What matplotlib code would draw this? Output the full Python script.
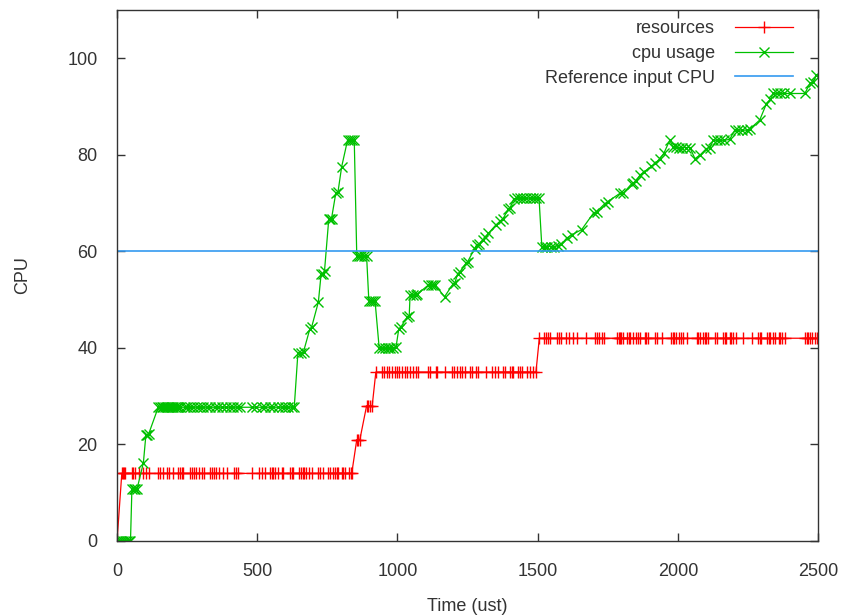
import matplotlib
matplotlib.use("Agg")
import matplotlib.pyplot as plt

plt.rcParams['font.family'] = ['Liberation Sans', 'DejaVu Sans']

# resources (red, "+")
res_t = [0, 17, 20, 25, 30, 52, 58, 64, 80, 94, 103, 115, 147, 153, 163, 177, 187, 198,
         219, 225, 231, 236, 260, 266, 274, 282, 294, 302, 310, 332, 339, 346, 353,
         365, 379, 391, 417, 424, 430, 480, 507, 516, 528, 545, 551, 557, 563, 575,
         587, 593, 617, 623, 629, 650, 656, 662, 668, 674, 686, 694, 718, 724, 736,
         753, 759, 771, 777, 783, 789, 801, 807, 813, 828, 833, 837,
         855, 860, 866, 890, 896, 903, 910,
         923, 944, 952, 961, 971, 979, 991, 997, 1006, 1015, 1027, 1035, 1045, 1054,
         1066, 1074, 1110, 1116, 1137, 1142, 1169, 1193, 1201, 1211, 1223, 1232, 1241,
         1258, 1265, 1280, 1288, 1316, 1339, 1348, 1359, 1377, 1383, 1401, 1407, 1413,
         1431, 1437, 1443, 1461, 1472, 1482, 1494,
         1506, 1522, 1529, 1538, 1544, 1570, 1577, 1585, 1601, 1613, 1627, 1639, 1672,
         1704, 1710, 1720, 1728, 1736, 1784, 1789, 1793, 1799, 1805, 1819, 1826, 1831,
         1841, 1850, 1859, 1865, 1882, 1888, 1894, 1918, 1924, 1945, 1974, 1981, 1986,
         1993, 2005, 2013, 2019, 2031, 2067, 2072, 2078, 2090, 2096, 2102, 2108, 2132,
         2138, 2161, 2167, 2173, 2185, 2191, 2197, 2209, 2233, 2263, 2286, 2292, 2298,
         2318, 2326, 2330, 2338, 2346, 2361, 2366, 2373, 2381, 2453, 2459, 2465, 2471,
         2480, 2488, 2496]
res_v = ([0] + [14] * 74 + [21] * 3 + [28] * 4 + [35] * 47 + [42] * 81)

# cpu usage (green, "x")
cpu_t = [0, 7, 14, 20, 27, 34, 41, 48, 53, 59, 65, 71, 94, 103, 108, 113,
         147, 153, 159, 165, 171, 177, 183, 189, 195, 201, 207, 213, 219, 225, 242,
         251, 260, 272, 284, 296, 308, 320, 332, 349, 361, 373, 389, 403, 415, 429,
         439, 480, 496, 516, 528, 545, 557, 575, 587, 599, 611, 623, 632,
         645, 655, 665, 688, 694, 718, 728, 735, 740, 755, 760, 765, 780, 788, 801,
         822, 830, 838, 846, 855, 862, 870, 880, 890, 898, 905, 912, 920,
         935, 945, 955, 965, 975, 985, 995, 1005, 1012, 1035, 1042, 1045, 1055, 1065,
         1070, 1110, 1120, 1128, 1135, 1168, 1199, 1205, 1215, 1222, 1244, 1250,
         1275, 1282, 1290, 1306, 1314, 1324, 1350, 1365, 1377, 1395, 1401,
         1415, 1425, 1437, 1448, 1460, 1472, 1485, 1495, 1505,
         1515, 1525, 1535, 1548, 1560, 1572, 1585, 1603, 1621, 1657, 1700, 1710,
         1740, 1750, 1793, 1805, 1835, 1841, 1850, 1865, 1880, 1906, 1920, 1936,
         1950, 1971, 1983, 1995, 2005, 2015, 2030, 2043, 2061, 2080, 2102, 2115,
         2126, 2140, 2150, 2165, 2185, 2203, 2215, 2230, 2245, 2256, 2292, 2316,
         2330, 2340, 2352, 2365, 2380, 2399, 2453, 2471, 2482, 2494]
cpu_v = [0, 0, 0, 0, 0, 0, 0, 0, 10.7, 10.7, 10.7, 10.7, 16.2, 22, 22, 22.2,
         27.7, 27.7, 27.7, 27.7, 27.7, 27.7, 27.7, 27.7, 27.7, 27.7, 27.7, 27.7,
         27.7, 27.7, 27.7, 27.7, 27.7, 27.7, 27.7, 27.7, 27.7, 27.7, 27.7, 27.7,
         27.7, 27.7, 27.7, 27.7, 27.7, 27.7, 27.7, 27.7, 27.7, 27.7, 27.7, 27.7,
         27.7, 27.7, 27.7, 27.7, 27.7, 27.7, 27.7,
         38.9, 38.9, 39.2, 44.0, 44.3, 49.5, 55.4, 55.4, 56, 66.6, 66.6, 66.8,
         72.0, 72.3, 77.5, 83.0, 83.0, 83.0, 83.0, 59.0, 59.0, 59.0, 59.0, 59.0,
         49.8, 49.8, 49.8, 49.8,
         39.9, 39.9, 39.9, 39.9, 39.9, 40, 40.2, 44.0, 44.3, 46.4, 46.6, 50.9, 50.9,
         50.9, 51.1, 53.0, 53.0, 53.0, 53.0, 50.6, 53.3, 53.5, 55.4, 55.7, 57.5,
         57.8, 60.5, 61.3, 61.5, 62.3, 63, 63.7, 65.4, 66.2, 66.8, 68.7, 68.9,
         70.9, 71, 71, 71, 71, 71, 71, 71, 71,
         60.9, 60.9, 61, 61, 61, 61.2, 61.5, 62.7, 63.4, 64.5, 68, 68.2,
         69.9, 70.3, 72.0, 72.0, 74.0, 74.2, 74.5, 75.8, 76.5, 77.6, 78.3, 79.2,
         80.3, 83.0, 81.6, 81.6, 81.5, 81.5, 81.5, 81.5, 79.2, 80.0, 81.3, 81.5,
         83.0, 83.0, 83.0, 83.0, 83.2, 85.1, 85.1, 85.1, 85.1, 85.3, 87.2, 90.6,
         91.5, 92.7, 92.7, 92.7, 92.7, 92.7, 92.7, 94.8, 95, 96.5]

# reference input
ref_t = [0, 2500]
ref_v = [60, 60]

fig = plt.figure(figsize=(8.45, 6.16), dpi=100)
ax = fig.add_axes([0.1385, 0.1218, 0.8296, 0.862])

ax.plot(res_t, res_v, color='#ff0000', lw=0.9, marker='+', ms=9, mew=1.0,
        label='resources')
ax.plot(cpu_t, cpu_v, color='#00c000', lw=0.9, marker='x', ms=7, mew=1.0,
        label='cpu usage')
ax.plot(ref_t, ref_v, color='#3399f0', lw=1.2, label='Reference input CPU')

ax.set_xlim(0, 2500)
ax.set_ylim(0, 110)
ax.set_xticks([0, 500, 1000, 1500, 2000, 2500])
ax.set_yticks([0, 20, 40, 60, 80, 100])
ax.tick_params(direction='in', top=True, right=True, length=6, width=1,
               labelsize=13, colors='#333333')
ax.tick_params(axis='x', pad=16)
ax.tick_params(axis='y', pad=14)
for s in ax.spines.values():
    s.set_color('#333333')
    s.set_linewidth(1.0)

ax.set_xlabel('Time (ust)', fontsize=13, color='#333333', labelpad=13)
ax.set_ylabel('CPU', fontsize=13, color='#333333', labelpad=26)

ax.legend(loc='upper right', bbox_to_anchor=(1.0, 1.028), frameon=False,
          markerfirst=False, fontsize=13,
          handlelength=3.2, labelspacing=0.42, borderaxespad=1.2,
          borderpad=0.2, handletextpad=1.1, labelcolor='#333333')

fig.savefig('out.png', dpi=100)
